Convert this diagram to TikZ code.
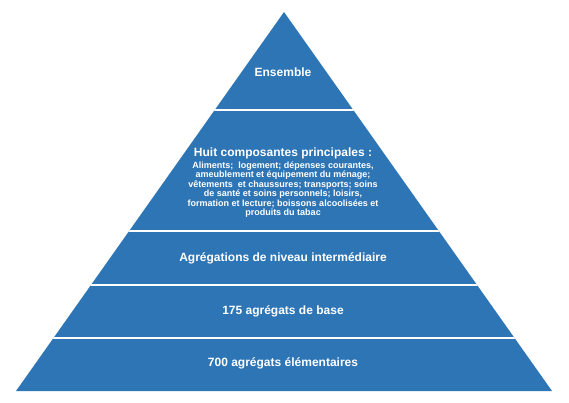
\documentclass[tikz,border=0pt]{standalone}
\usepackage{fontspec}
\setmainfont{Liberation Sans}
\definecolor{pyr}{RGB}{46,117,182}
\begin{document}
\begin{tikzpicture}[x=1pt,y=-1pt,
  lbl/.style={text=white,font=\bfseries\fontsize{12}{14}\selectfont,align=center,inner sep=0pt},
  smalltxt/.style={text=white,font=\bfseries\fontsize{9}{9.5}\selectfont,align=center,inner sep=0pt},
  sep/.style={white,line width=1.6pt}]
\useasboundingbox (0,0) rectangle (569,402);
\coordinate (apex) at (284,12);
\coordinate (bl) at (16,391);
\coordinate (br) at (552,391);
\fill[pyr] (apex) -- (br) -- (bl) -- cycle;
\begin{scope}
\clip (apex) -- (br) -- (bl) -- cycle;
\foreach \y in {110,231,285,338} \draw[sep] (0,\y) -- (569,\y);
\end{scope}
\node[lbl] (ens) at (283,72.5) {Ensemble};
\node[lbl] (huit) at (283,153) {Huit composantes principales :};
\node[smalltxt] (list) at (283,189.5) {Aliments;\ \ logement; dépenses courantes,\\ameublement et équipement du ménage;\\vêtements\ \ et chaussures; transports; soins\\de santé et soins personnels; loisirs,\\formation et lecture; boissons alcoolisées et\\produits du tabac};
\node[lbl] (agr) at (283,258) {Agrégations de niveau intermédiaire};
\node[lbl] (base) at (283,311) {175 agrégats de base};
\node[lbl] (elem) at (283,363.5) {700 agrégats élémentaires};
\end{tikzpicture}
\end{document}
